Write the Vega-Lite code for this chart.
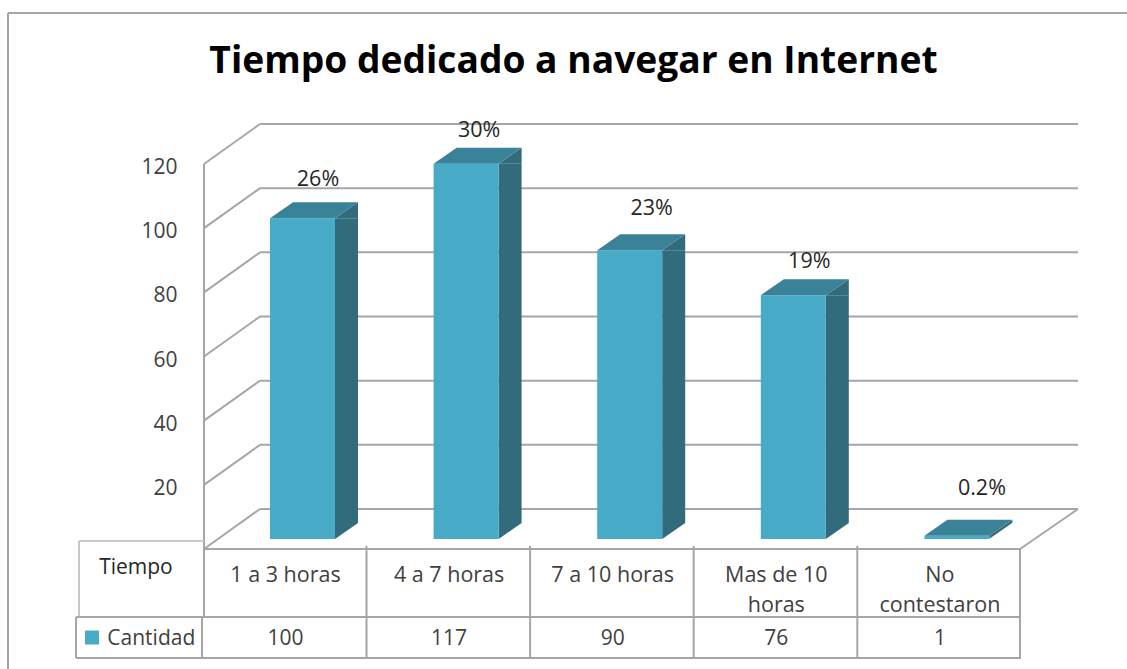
{"$schema":"https://vega.github.io/schema/vega-lite/v6.json","width":1127,"height":669,"padding":0,"autosize":{"type":"none"},"background":"white","view":{"stroke":null},
"title":{"text":"Tiempo dedicado a navegar en Internet","font":"Open Sans","fontWeight":700,"fontSize":37.2,"color":"#000000","anchor":"middle","dx":10,"offset":-81,"frame":"group"},
"config":{"axisX":{"disable":true},"axisY":{"title":null},"text":{"font":"Open Sans"},"rule":{"color":"#A6A6A6","strokeWidth":2}},
"datasets":{"barras":[{"columna":1,"tiempo":"1 a 3 horas","cantidad":100,"porcentaje":"26%"},{"columna":2,"tiempo":"4 a 7 horas","cantidad":117,"porcentaje":"30%"},{"columna":3,"tiempo":"7 a 10 horas","cantidad":90,"porcentaje":"23%"},{"columna":4,"tiempo":"Mas de 10\nhoras","cantidad":76,"porcentaje":"19%"},{"columna":5,"tiempo":"No\ncontestaron","cantidad":1,"porcentaje":"0.2%"}],"niveles":[{"nivel":0},{"nivel":20},{"nivel":40},{"nivel":60},{"nivel":80},{"nivel":100},{"nivel":120}],"uno":[{"fila":1}]},
"data":{"name":"barras"},
"layer":[
{"data":{"name":"niveles"},"transform":[{"filter":"datum.nivel==0"}],"mark":{"type":"rule"},"encoding":{"x":{"datum":0.5018,"type":"quantitative","scale":{"domain":[-0.7451,6.1436],"nice":false,"zero":false,"padding":0},"axis":null},"x2":{"datum":5.4896},"y":{"field":"nivel","type":"quantitative","scale":{"domain":[-37.41,171.13],"nice":false,"zero":false,"padding":0},"axis":{"values":[20,40,60,80,100,120],"orient":"left","offset":-177,"domain":false,"ticks":false,"grid":false,"labelPadding":0,"labelOffset":3.5,"labelFont":"Open Sans","labelFontSize":21,"labelColor":"#404040","title":null}}}},
{"data":{"name":"niveles"},"mark":{"type":"rule","xOffset":56,"x2Offset":58,"yOffset":-40},"encoding":{"x":{"datum":0.5018,"type":"quantitative"},"x2":{"datum":5.4896},"y":{"field":"nivel","type":"quantitative"}}},
{"data":{"name":"niveles"},"mark":{"type":"point","shape":"M0 0 L56 -40","size":4,"filled":false,"opacity":1,"stroke":"#A6A6A6","strokeWidth":2},"encoding":{"x":{"datum":0.5018,"type":"quantitative"},"y":{"field":"nivel","type":"quantitative"}}},
{"data":{"name":"uno"},"mark":{"type":"point","shape":"M0 0 L58 -40","size":4,"filled":false,"opacity":1,"stroke":"#A6A6A6","strokeWidth":2},"encoding":{"x":{"datum":5.4896,"type":"quantitative"},"y":{"datum":0,"type":"quantitative"}}},
{"data":{"name":"uno"},"mark":{"type":"rule"},"encoding":{"x":{"datum":0.5018,"type":"quantitative"},"y":{"datum":120,"type":"quantitative"},"y2":{"datum":-21.2}}},
{"data":{"name":"uno"},"mark":{"type":"rule"},"encoding":{"x":{"datum":-0.6962,"type":"quantitative"},"x2":{"datum":6.1436},"y":{"datum":167.08,"type":"quantitative"}}},
{"data":{"name":"uno"},"mark":{"type":"rule"},"encoding":{"x":{"datum":-0.6962,"type":"quantitative"},"y":{"datum":167.08,"type":"quantitative"},"y2":{"datum":-37.41}}},
{"data":{"name":"uno"},"mark":{"type":"rule","color":"#C8C8C8"},"encoding":{"x":{"datum":-0.2622,"type":"quantitative"},"x2":{"datum":0.5018},"y":{"datum":2.49,"type":"quantitative"}}},
{"data":{"name":"uno"},"mark":{"type":"rule","color":"#C8C8C8"},"encoding":{"x":{"datum":-0.2622,"type":"quantitative"},"y":{"datum":2.49,"type":"quantitative"},"y2":{"datum":-21.2}}},
{"data":{"name":"uno"},"mark":{"type":"rule"},"encoding":{"x":{"datum":-0.2806,"type":"quantitative"},"x2":{"datum":5.4957},"y":{"datum":-21.2,"type":"quantitative"}}},
{"data":{"name":"uno"},"mark":{"type":"rule"},"encoding":{"x":{"datum":-0.2806,"type":"quantitative"},"x2":{"datum":5.4957},"y":{"datum":-33.98,"type":"quantitative"}}},
{"data":{"name":"uno"},"mark":{"type":"rule"},"encoding":{"x":{"datum":-0.2806,"type":"quantitative"},"y":{"datum":-21.2,"type":"quantitative"},"y2":{"datum":-33.98}}},
{"data":{"name":"uno"},"mark":{"type":"rule"},"encoding":{"x":{"datum":0.4896,"type":"quantitative"},"y":{"datum":-21.2,"type":"quantitative"},"y2":{"datum":-33.98}}},
{"data":{"name":"uno"},"mark":{"type":"rule"},"encoding":{"x":{"datum":5.4896,"type":"quantitative"},"y":{"datum":0,"type":"quantitative"},"y2":{"datum":-33.98}}},
{"mark":{"type":"rule","xOffset":81},"transform":[{"filter":"datum.columna<5"}],"encoding":{"x":{"field":"columna","type":"quantitative"},"y":{"datum":1,"type":"quantitative"},"y2":{"datum":-33.98}}},
{"transform":[{"filter":"datum.cantidad>5"}],"mark":{"type":"bar","orient":"vertical","width":23,"xOffset":61,"yOffset":-10,"y2Offset":-26,"color":"#326B7C"},"encoding":{"x":{"field":"columna","type":"quantitative"},"y":{"field":"cantidad","type":"quantitative"},"y2":{"datum":0}}},
{"transform":[{"filter":"datum.cantidad>5"}],"mark":{"type":"point","shape":"M49.5 -10 L72.5 -26 L72.5 -10Z","size":4,"filled":true,"opacity":1,"color":"#326B7C","strokeWidth":0},"encoding":{"x":{"field":"columna","type":"quantitative"},"y":{"field":"cantidad","type":"quantitative"}}},
{"transform":[{"filter":"datum.cantidad>5"}],"mark":{"type":"point","shape":"M49.5 -26 L72.5 -26 L49.5 -10Z","size":4,"filled":true,"opacity":1,"color":"#326B7C","strokeWidth":0},"encoding":{"x":{"field":"columna","type":"quantitative"},"y":{"datum":0,"type":"quantitative"}}},
{"transform":[{"filter":"datum.cantidad<=5"}],"mark":{"type":"point","shape":"M49.5 -10 L72.5 -26 L72.5 -23 L49.5 -7Z","size":4,"filled":true,"opacity":1,"color":"#326B7C","strokeWidth":0},"encoding":{"x":{"field":"columna","type":"quantitative"},"y":{"field":"cantidad","type":"quantitative"}}},
{"mark":{"type":"bar","orient":"vertical","width":65,"xOffset":17,"yOffset":-10,"y2Offset":-10,"color":"#47ABC8"},"encoding":{"x":{"field":"columna","type":"quantitative"},"y":{"field":"cantidad","type":"quantitative"},"y2":{"datum":0}}},
{"mark":{"type":"point","shape":"M-15.5 -10 L49.5 -10 L72.5 -26 L7.5 -26Z","size":4,"filled":true,"opacity":1,"color":"#3A8298","strokeWidth":0},"encoding":{"x":{"field":"columna","type":"quantitative"},"y":{"field":"cantidad","type":"quantitative"}}},
{"transform":[{"filter":"datum.columna==1"}],"mark":{"type":"text","fontSize":21.5,"color":"#262626","dx":32.5,"dy":-48},"encoding":{"x":{"field":"columna","type":"quantitative"},"y":{"field":"cantidad","type":"quantitative"},"text":{"field":"porcentaje"}}},
{"transform":[{"filter":"datum.columna==2"}],"mark":{"type":"text","fontSize":21.5,"color":"#262626","dx":30,"dy":-43},"encoding":{"x":{"field":"columna","type":"quantitative"},"y":{"field":"cantidad","type":"quantitative"},"text":{"field":"porcentaje"}}},
{"transform":[{"filter":"datum.columna==3"}],"mark":{"type":"text","fontSize":21.5,"color":"#262626","dx":39,"dy":-51},"encoding":{"x":{"field":"columna","type":"quantitative"},"y":{"field":"cantidad","type":"quantitative"},"text":{"field":"porcentaje"}}},
{"transform":[{"filter":"datum.columna==4"}],"mark":{"type":"text","fontSize":21.5,"color":"#262626","dx":33,"dy":-43},"encoding":{"x":{"field":"columna","type":"quantitative"},"y":{"field":"cantidad","type":"quantitative"},"text":{"field":"porcentaje"}}},
{"transform":[{"filter":"datum.columna==5"}],"mark":{"type":"text","fontSize":21.5,"color":"#262626","dx":42,"dy":-57},"encoding":{"x":{"field":"columna","type":"quantitative"},"y":{"field":"cantidad","type":"quantitative"},"text":{"field":"porcentaje"}}},
{"mark":{"type":"text","fontSize":21.5,"color":"#404040","baseline":"alphabetic","dy":33,"lineBreak":"\n","lineHeight":30},"encoding":{"x":{"field":"columna","type":"quantitative"},"y":{"datum":0,"type":"quantitative"},"text":{"field":"tiempo"}}},
{"mark":{"type":"text","fontSize":21,"color":"#404040","baseline":"alphabetic","dy":96},"encoding":{"x":{"field":"columna","type":"quantitative"},"y":{"datum":0,"type":"quantitative"},"text":{"field":"cantidad"}}},
{"data":{"name":"uno"},"mark":{"type":"text","fontSize":21,"color":"#262626","baseline":"alphabetic","dy":25},"encoding":{"x":{"datum":0.086,"type":"quantitative"},"y":{"datum":0,"type":"quantitative"},"text":{"value":"Tiempo"}}},
{"data":{"name":"uno"},"mark":{"type":"text","fontSize":21,"color":"#404040","baseline":"alphabetic","dy":96},"encoding":{"x":{"datum":0.1796,"type":"quantitative"},"y":{"datum":0,"type":"quantitative"},"text":{"value":"Cantidad"}}},
{"data":{"name":"uno"},"mark":{"type":"point","shape":"square","size":196,"filled":true,"opacity":1,"color":"#47ABC8","strokeWidth":0},"encoding":{"x":{"datum":-0.183,"type":"quantitative"},"y":{"datum":-27.6,"type":"quantitative"}}}
]}
